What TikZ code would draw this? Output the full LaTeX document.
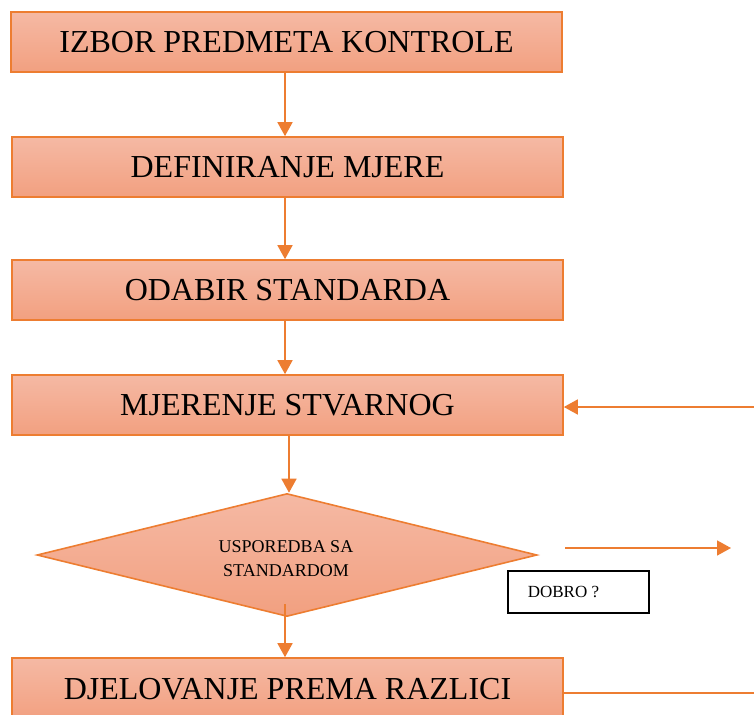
\documentclass[tikz,border=0pt]{standalone}
\usepackage{fontspec}
\setmainfont{Liberation Serif}
\usetikzlibrary{shapes.geometric,arrows.meta}
\definecolor{edge}{HTML}{ED7D31}
\definecolor{topc}{HTML}{F5B9A4}
\definecolor{botc}{HTML}{F2A080}
\tikzset{
  stepbox/.style={draw=edge, line width=1.6pt, top color=topc, bottom color=botc,
    minimum width=551pt, minimum height=60pt, inner sep=0pt,
    font=\fontsize{32}{36}\selectfont},
  decision/.style={diamond, draw=edge, line width=1.6pt, top color=topc, bottom color=botc,
    minimum width=500pt, minimum height=123pt, inner sep=0pt, aspect=4},
  conn/.style={draw=edge, line width=1.6pt, -{Triangle[length=14pt,width=15pt]}},
  plain/.style={draw=edge, line width=1.6pt}
}
\begin{document}
\begin{tikzpicture}[x=1pt,y=1pt]
\useasboundingbox (0,0) rectangle (754,-714);
\clip (0,0) rectangle (754,-714);
\node[stepbox] (b1) at (286.5,-42) {IZBOR PREDMETA KONTROLE};
\node[stepbox] (b2) at (287.5,-167) {DEFINIRANJE MJERE};
\node[stepbox] (b3) at (287.5,-290) {ODABIR STANDARDA};
\node[stepbox] (b4) at (287.5,-405) {MJERENJE STVARNOG};
\node[decision] (d) at (287,-555) {};
\node[align=center, font=\fontsize{18}{24}\selectfont, inner sep=0pt] (dt) at (286,-559) {USPOREDBA SA\\STANDARDOM};
\node[stepbox, minimum height=62pt] (b5) at (287.5,-689) {DJELOVANJE PREMA RAZLICI};
\node[draw=black, line width=1.2pt, minimum width=141pt, minimum height=42pt, inner sep=0pt] (q) at (578.5,-592) {};
\node[font=\fontsize{17}{20}\selectfont, inner sep=0pt] (qt) at (563.5,-592) {DOBRO ?};
\coordinate (inR) at (754,-407);
\coordinate (outA) at (565,-548);
\coordinate (outB) at (731,-548);
\coordinate (loopE) at (754,-693);
\coordinate (dbot) at (285,-604);
\draw[conn] (285,-72) -- (b2.north -| 285,0);
\draw[conn] (b2.south -| 285,0) -- (b3.north -| 285,0);
\draw[conn] (b3.south -| 285,0) -- (b4.north -| 285,0);
\draw[conn] (b4.south -| 289,0) -- (d.north -| 289,0);
\draw[conn] (dbot) -- (b5.north -| 285,0);
\draw[conn] (inR) -- (b4.east |- inR);
\draw[conn] (outA) -- (outB);
\draw[plain] (b5.east |- loopE) -- (loopE);
\end{tikzpicture}
\end{document}
